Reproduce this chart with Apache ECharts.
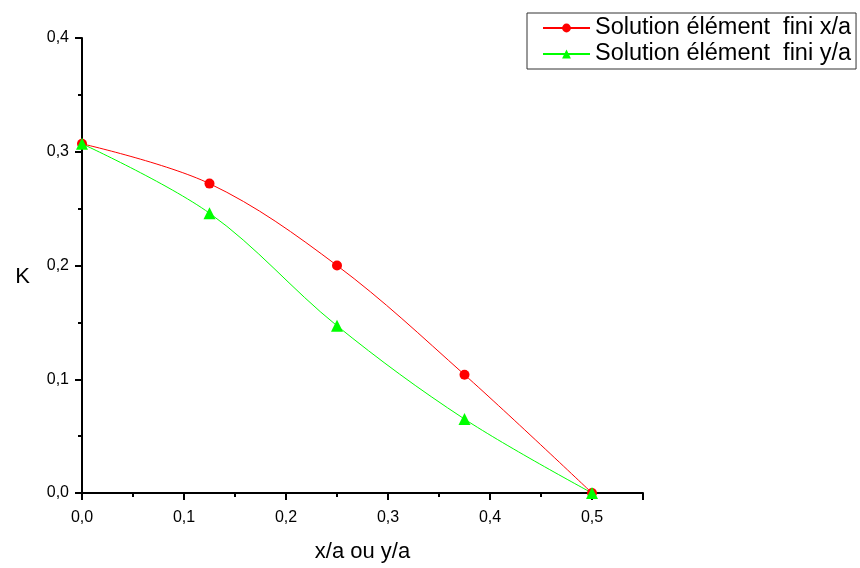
<!DOCTYPE html>
<html>
<head>
<meta charset="utf-8">
<script src="https://cdn.jsdelivr.net/npm/echarts@6/dist/echarts.min.js"></script>
<style>
  html, body { margin: 0; padding: 0; background: #fff; }
  #chart { width: 860px; height: 568px; }
</style>
</head>
<body>
<div id="chart"></div>
<script>
const xPos = [0, 0.125, 0.25, 0.375, 0.5]
const kX = [0.307, 0.272, 0.2, 0.104, 0]
const kY = [0.307, 0.246, 0.147, 0.065, 0]
const seriesNames = ['Solution élément  fini x/a', 'Solution élément  fini y/a']

const fmt = v => v.toFixed(1).replace('.', ',')
const font = 'Liberation Sans, Arial, sans-serif'

let myChart = echarts.init(document.getElementById('chart'))
myChart.setOption({
  animation: false,
  textStyle: { fontFamily: font },
  grid: { left: 82, right: 217, top: 38, bottom: 75, outerBoundsMode: 'none', containLabel: false },
  legend: {
    orient: 'vertical',
    left: 527,
    top: 13,
    padding: [3, 5, 3, 15],
    itemGap: 2,
    itemWidth: 47,
    itemHeight: 11,
    borderColor: '#333',
    borderWidth: 1,
    textStyle: { fontSize: 23.5, color: '#000', fontFamily: font },
    data: seriesNames
  },
  xAxis: {
    type: 'value',
    min: 0,
    max: 0.55,
    interval: 0.1,
    name: 'x/a ou y/a',
    nameLocation: 'middle',
    nameGap: 48,
    nameTextStyle: { fontSize: 22, color: '#000' },
    splitLine: { show: false },
    axisLine: { lineStyle: { color: '#000', width: 2 } },
    axisTick: { inside: false, length: 7, lineStyle: { color: '#000', width: 2 } },
    minorTick: { show: true, splitNumber: 2, length: 4, lineStyle: { color: '#000', width: 2 } },
    axisLabel: {
      color: '#000', fontSize: 16, margin: 17,
      formatter: v => (Math.abs(v * 10 - Math.round(v * 10)) < 1e-6 ? fmt(v) : '')
    }
  },
  yAxis: {
    type: 'value',
    min: 0,
    max: 0.4,
    interval: 0.1,
    name: 'K',
    nameLocation: 'middle',
    nameRotate: 0,
    nameGap: 52,
    nameTextStyle: { fontSize: 22, color: '#000', verticalAlign: 'top' },
    splitLine: { show: false },
    axisLine: { show: true, lineStyle: { color: '#000', width: 2 } },
    axisTick: { show: true, inside: false, length: 7, lineStyle: { color: '#000', width: 2 } },
    minorTick: { show: true, splitNumber: 2, length: 4, lineStyle: { color: '#000', width: 2 } },
    axisLabel: { color: '#000', fontSize: 16, margin: 13, formatter: fmt }
  },
  series: [
    {
      name: seriesNames[0],
      type: 'line',
      smooth: 0.35,
      data: xPos.map((x, i) => [x, kX[i]]),
      symbol: 'circle',
      symbolSize: 10,
      lineStyle: { color: '#ff0000', width: 1 },
      itemStyle: { color: '#ff0000' }
    },
    {
      name: seriesNames[1],
      type: 'line',
      smooth: 0.35,
      data: xPos.map((x, i) => [x, kY[i]]),
      symbol: 'triangle',
      symbolSize: 12,
      lineStyle: { color: '#00ff00', width: 1 },
      itemStyle: { color: '#00ff00' }
    }
  ]
})
</script>
</body>
</html>
